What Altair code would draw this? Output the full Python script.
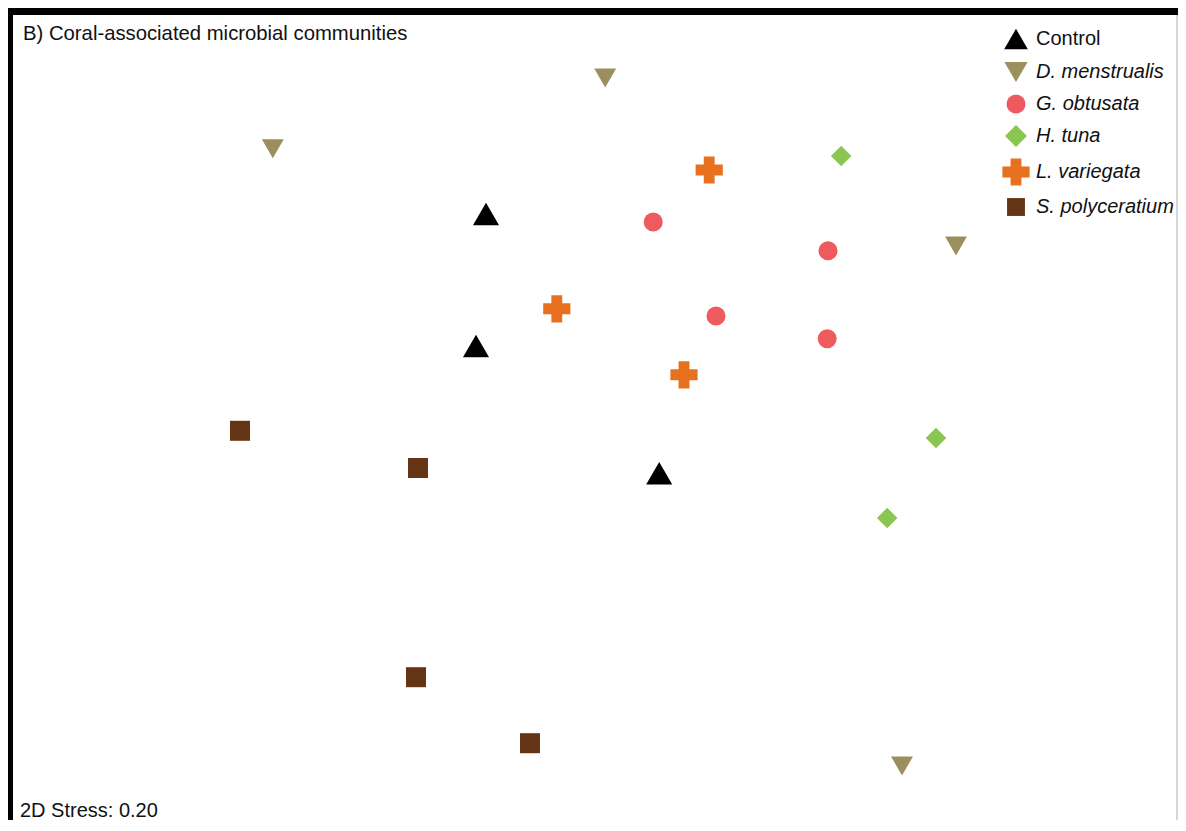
import altair as alt
import pandas as pd

# NMDS ordination of coral-associated microbial communities
group_order = ["Control", "D. menstrualis", "G. obtusata", "H. tuna", "L. variegata", "S. polyceratium"]
group_colors = ["#000000", "#9b8f5e", "#ef5a5e", "#8cc652", "#e8711f", "#653414"]
group_shapes = ["triangle-up", "triangle-down", "circle", "diamond", "cross", "square"]
group_sizes = [680, 480, 361, 420, 740, 400]
legend_sizes = [560, 540, 361, 480, 740, 320]

groups = (["Control"] * 3 + ["D. menstrualis"] * 4 + ["G. obtusata"] * 4 +
          ["H. tuna"] * 3 + ["L. variegata"] * 3 + ["S. polyceratium"] * 4)
nmds1 = [-0.285, -0.310, 0.148,
         0.013, -0.818, 0.890, 0.755,
         0.133, 0.570, 0.290, 0.568,
         0.603, 0.840, 0.718,
         0.273, -0.108, 0.210,
         -0.900, -0.455, -0.460, -0.175]
nmds2 = [0.565, 0.235, -0.083,
         0.905, 0.728, 0.485, -0.815,
         0.545, 0.473, 0.310, 0.253,
         0.710, 0.005, -0.195,
         0.675, 0.328, 0.163,
         0.023, -0.070, -0.593, -0.758]

W, H = 1170, 812
FONT = "Liberation Sans"

size_of = dict(zip(group_order, group_sizes))
df = pd.DataFrame({"group": groups, "nmds1": nmds1, "nmds2": nmds2})
df["sz"] = df["group"].map(size_of)

size_expr = " : ".join(
    f"datum.value == '{g}' ? {s}" for g, s in zip(group_order, legend_sizes)
) + " : 400"

leg = alt.Legend(
    title=None, orient="none", legendX=998, legendY=21, padding=0,
    labelFont=FONT, labelFontSize=20, labelColor="#111111",
    labelFontStyle=alt.ExprRef(expr="datum.label == 'Control' ? 'normal' : 'italic'"),
    labelOffset=10, rowPadding=11, symbolStrokeWidth=0, symbolOpacity=1,
    symbolSize=alt.ExprRef(expr=size_expr), labelLimit=300,
)

points = alt.Chart(df).mark_point(filled=True, opacity=1, strokeWidth=0).encode(
    x=alt.X("nmds1:Q", axis=None, scale=alt.Scale(domain=[-1.48, 1.445], nice=False, zero=False)),
    y=alt.Y("nmds2:Q", axis=None, scale=alt.Scale(domain=[-0.95, 1.08], nice=False, zero=False)),
    color=alt.Color("group:N", scale=alt.Scale(domain=group_order, range=group_colors), legend=leg),
    shape=alt.Shape("group:N", scale=alt.Scale(domain=group_order, range=group_shapes), legend=leg),
    size=alt.Size("sz:Q", scale=None, legend=None),
)

dummy = pd.DataFrame({"k": [0]})

title_txt = alt.Chart(dummy).mark_text(
    text="B) Coral-associated microbial communities", font=FONT, fontSize=20.3,
    align="left", baseline="alphabetic", color="#111111"
).encode(x=alt.value(15), y=alt.value(32))

stress_txt = alt.Chart(dummy).mark_text(
    text="2D Stress: 0.20", font=FONT, fontSize=20,
    align="left", baseline="alphabetic", color="#111111"
).encode(x=alt.value(12), y=alt.value(809))

top_border = alt.Chart(dummy).mark_rule(color="black", strokeWidth=7).encode(
    x=alt.value(0), x2=alt.value(W), y=alt.value(3.5))
left_border = alt.Chart(dummy).mark_rule(color="black", strokeWidth=6).encode(
    x=alt.value(2), y=alt.value(0), y2=alt.value(H))
right_border = alt.Chart(dummy).mark_rule(color="#c8c8c8", strokeWidth=1.5).encode(
    x=alt.value(W - 1), y=alt.value(7), y2=alt.value(H))

chart = alt.layer(
    top_border, left_border, right_border, title_txt, stress_txt, points
).properties(
    width=W, height=H, padding=0, autosize=alt.AutoSizeParams(type="none"),
    background="white"
).configure_view(stroke=None)

chart.save("out.html", embed_options={"renderer": "svg", "actions": False})
